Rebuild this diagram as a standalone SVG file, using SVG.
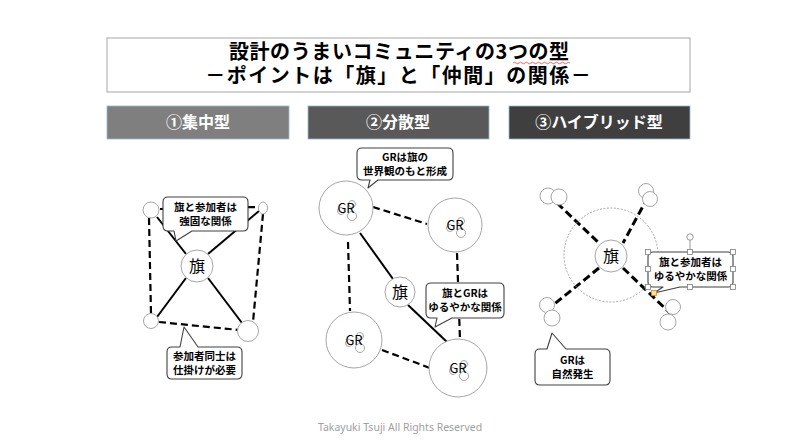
<svg xmlns="http://www.w3.org/2000/svg" width="800" height="444" viewBox="0 0 800 444">
<style>
.t{font-family:"Noto Sans CJK JP","Noto Sans",sans-serif;font-weight:bold;fill:#000;text-anchor:middle}
.h{font-family:"Noto Sans CJK JP","Noto Sans",sans-serif;font-weight:bold;fill:#fff;text-anchor:middle;font-size:16px}
.c{font-family:"Noto Sans CJK JP","Noto Sans",sans-serif;font-weight:bold;fill:#000;text-anchor:middle;font-size:10.5px}
.n{font-family:"Noto Sans CJK JP","Noto Sans",sans-serif;fill:#000;text-anchor:middle}
.circ{fill:#fff;stroke:#a6a6a6;stroke-width:1}
.call{fill:#fff;stroke:#404040;stroke-width:1.1;stroke-linejoin:round}
.solid{stroke:#000;stroke-width:2;fill:none}
.dash{stroke:#000;stroke-width:2.2;fill:none;stroke-dasharray:7 4}
.dash3{stroke:#000;stroke-width:3;fill:none;stroke-dasharray:8 4}
</style>
<rect width="800" height="444" fill="#fff"/>

<g id="title">
<rect x="107" y="38" width="583" height="54" fill="#fff" stroke="#a6a6a6" stroke-width="1"/>
<text class="t" x="399.3" y="58.5" font-size="20" letter-spacing="0.6">設計のうまいコミュニティの3つの型</text>
<path d="M513,63 q1.5,-1.5 3,0 t3,0 t3,0 t3,0 t3,0 t3,0 t3,0 t3,0 t3,0 t3,0 t3,0 t3,0 t3,0 t3,0 t3,0 t3,0 t3,0 t3,0 t3,0" fill="none" stroke="#e04040" stroke-width="0.8"/>
<text class="t" x="398.7" y="82.5" font-size="20" letter-spacing="1.5">－ポイントは「旗」と「仲間」の関係－</text>
</g>

<g id="header1">
<rect x="107" y="106" width="182" height="33" fill="#7f7f7f" stroke="#9fb4cf" stroke-width="0.8"/>
<text class="h" x="198" y="128">①集中型</text>
</g>
<g id="header2">
<rect x="308" y="106" width="181" height="33" fill="#595959" stroke="#9fb4cf" stroke-width="0.8"/>
<text class="h" x="398" y="128">②分散型</text>
</g>
<g id="header3">
<rect x="509" y="106" width="181" height="33" fill="#3f3f3f" stroke="#9fb4cf" stroke-width="0.8"/>
<text class="h" x="599" y="128">③ハイブリッド型</text>
</g>

<g id="connectors">
<line class="dash" x1="160" y1="209" x2="258" y2="207"/>
<line class="dash" x1="149" y1="218" x2="151" y2="314"/>
<line class="dash" x1="263" y1="214" x2="253" y2="322"/>
<line class="dash" x1="159" y1="322" x2="239" y2="330"/>
<line class="solid" x1="157" y1="217" x2="186" y2="254"/>
<line class="solid" x1="208" y1="254" x2="259" y2="211"/>
<line class="solid" x1="186" y1="278" x2="157" y2="317"/>
<line class="solid" x1="208" y1="278" x2="242" y2="323"/>
<line class="dash" x1="373" y1="207" x2="427" y2="224"/>
<line class="dash" x1="348" y1="242" x2="350" y2="311"/>
<line class="dash" x1="457" y1="253" x2="460" y2="340"/>
<line class="dash" x1="382" y1="350" x2="430" y2="368"/>
<line class="solid" x1="360" y1="233" x2="393" y2="279"/>
<line class="solid" x1="408" y1="305" x2="447" y2="342"/>
<line class="dash3" x1="557" y1="203" x2="599" y2="243"/>
<line class="dash3" x1="648" y1="197" x2="623" y2="243"/>
<line class="dash3" x1="599" y1="268" x2="552" y2="306"/>
<line class="dash3" x1="623" y1="268" x2="671" y2="314"/>
</g>

<g id="p1-flag">
<circle class="circ" cx="197" cy="266" r="16"/>
<text class="n" x="197" y="272" font-size="16">旗</text>
</g>
<g id="p1-tl"><circle class="circ" cx="151" cy="210" r="8"/></g>
<g id="p1-tr"><ellipse class="circ" cx="263" cy="208" rx="4.5" ry="6"/></g>
<g id="p1-bl"><circle class="circ" cx="151" cy="321" r="7.5"/></g>
<g id="p1-br"><circle class="circ" cx="248" cy="331" r="10.5"/></g>
<g id="p1-call1">
<path class="call" d="M168,197 H243 Q248,197 248,202 V226 Q248,231 243,231 H192 L176,241 L174,231 H168 Q163,231 163,226 V202 Q163,197 168,197 Z"/>
<text class="c" x="205.5" y="211">旗と参加者は</text>
<text class="c" x="205.5" y="225">強固な関係</text>
</g>
<g id="p1-call2">
<path class="call" d="M172,347 H180 L184,327 L198,347 H237 Q242,347 242,352 V374 Q242,379 237,379 H172 Q167,379 167,374 V352 Q167,347 172,347 Z"/>
<text class="c" x="204.5" y="360">参加者同士は</text>
<text class="c" x="204.5" y="374">仕掛けが必要</text>
</g>

<g id="p2-gr1">
<circle class="circ" cx="346" cy="208" r="27"/>
<circle class="circ" cx="341" cy="211" r="3.5"/><circle class="circ" cx="352" cy="216" r="4.5"/><circle class="circ" cx="352" cy="204" r="3.5"/>
<text class="n" x="346" y="213" font-size="13">GR</text>
</g>
<g id="p2-gr2">
<circle class="circ" cx="455" cy="225" r="27"/>
<circle class="circ" cx="450" cy="228" r="3.5"/><circle class="circ" cx="461" cy="233" r="4.5"/><circle class="circ" cx="461" cy="221" r="3.5"/>
<text class="n" x="455" y="230" font-size="13">GR</text>
</g>
<g id="p2-gr3">
<circle class="circ" cx="354" cy="340" r="28"/>
<circle class="circ" cx="349" cy="343" r="3.5"/><circle class="circ" cx="360" cy="348" r="4.5"/><circle class="circ" cx="360" cy="336" r="3.5"/>
<text class="n" x="354" y="345" font-size="13">GR</text>
</g>
<g id="p2-gr4">
<circle class="circ" cx="458" cy="368" r="29"/>
<circle class="circ" cx="453" cy="371" r="3.5"/><circle class="circ" cx="464" cy="376" r="4.5"/><circle class="circ" cx="464" cy="364" r="3.5"/>
<text class="n" x="458" y="373" font-size="13">GR</text>
</g>
<g id="p2-flag">
<circle class="circ" cx="400" cy="292" r="15"/>
<text class="n" x="400" y="298" font-size="16">旗</text>
</g>
<g id="p2-call1">
<path class="call" d="M362,148 H448 Q453,148 453,153 V175 Q453,180 448,180 H378 L368,188 L370,180 H362 Q357,180 357,175 V153 Q357,148 362,148 Z"/>
<text class="c" x="405" y="161">GRは旗の</text>
<text class="c" x="405" y="175">世界観のもと形成</text>
</g>
<g id="p2-call2">
<path class="call" d="M431,283 H499 Q504,283 504,288 V313 Q504,318 499,318 H452 L435,327 L437,318 H431 Q426,318 426,313 V288 Q426,283 431,283 Z"/>
<text class="c" x="465" y="297">旗とGRは</text>
<text class="c" x="465" y="311">ゆるやかな関係</text>
</g>

<g id="p3-range"><circle cx="611" cy="255" r="47" fill="none" stroke="#a6a6a6" stroke-width="1" stroke-dasharray="2 1.5"/></g>
<g id="p3-flag">
<circle class="circ" cx="611" cy="256" r="16"/>
<text class="n" x="611" y="262" font-size="16">旗</text>
</g>
<g id="p3-tl"><circle class="circ" cx="548" cy="196" r="8"/><circle class="circ" cx="559" cy="197" r="8"/></g>
<g id="p3-tr"><circle class="circ" cx="646" cy="191" r="7.5"/><circle class="circ" cx="650" cy="199" r="7.5"/></g>
<g id="p3-bl"><circle class="circ" cx="547" cy="305" r="7.5"/><circle class="circ" cx="552" cy="318" r="8"/></g>
<g id="p3-br"><circle class="circ" cx="673" cy="307" r="7.5"/><circle class="circ" cx="668" cy="322" r="8"/></g>
<g id="p3-call1">
<path class="call" d="M653,252 H728 Q733,252 733,257 V282 Q733,287 728,287 H680 L654,293 L663,287 H653 Q648,287 648,282 V257 Q648,252 653,252 Z" stroke-width="1.4"/>
<text class="c" x="690.5" y="266">旗と参加者は</text>
<text class="c" x="690.5" y="280">ゆるやかな関係</text>
<g fill="#fff" stroke="#808080" stroke-width="0.8">
<line x1="690" y1="240" x2="690" y2="250"/>
<circle cx="690" cy="237" r="3.2"/>
<rect x="645.5" y="249.5" width="5" height="5"/><rect x="687.5" y="249.5" width="5" height="5"/><rect x="730.5" y="249.5" width="5" height="5"/>
<rect x="645.5" y="266.5" width="5" height="5"/><rect x="730.5" y="266.5" width="5" height="5"/>
<rect x="645.5" y="284.5" width="5" height="5"/><rect x="687.5" y="284.5" width="5" height="5"/><rect x="730.5" y="284.5" width="5" height="5"/>
</g>
<rect x="651.5" y="290.5" width="5" height="5" fill="#ffe680" stroke="#e08030" stroke-width="0.8"/>
</g>
<g id="p3-call2">
<path class="call" d="M540,349 H547 L552,333 L566,349 H605 Q610,349 610,354 V380 Q610,385 605,385 H540 Q535,385 535,380 V354 Q535,349 540,349 Z"/>
<text class="c" x="572.5" y="364">GRは</text>
<text class="c" x="572.5" y="378">自然発生</text>
</g>

<g id="footer">
<text x="400" y="431" font-family="'Noto Sans','Open Sans',sans-serif" font-size="10.5" fill="#a0a0a0" text-anchor="middle">Takayuki Tsuji All Rights Reserved</text>
</g>
</svg>
